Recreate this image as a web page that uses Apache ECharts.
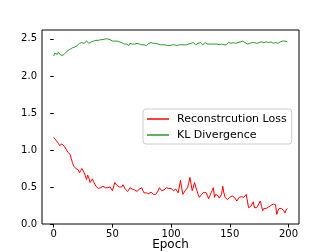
<!DOCTYPE html>
<html><head><meta charset="utf-8">
<script src="https://cdn.jsdelivr.net/npm/echarts@6/dist/echarts.min.js"></script>
<style>html,body{margin:0;padding:0;background:#fff}#c{width:332px;height:252px}</style>
</head><body><div id="c"></div>
<script>
var reconLoss = [
1.17,1.15,1.13,1.11,1.09,1.06,1.07,1.08,1.07,1.05,
1.03,1.00,0.97,0.95,0.94,0.88,0.83,0.78,0.76,0.75,
0.74,0.73,0.69,0.72,0.75,0.72,0.69,0.65,0.60,0.66,
0.62,0.56,0.58,0.61,0.57,0.54,0.51,0.49,0.48,0.48,
0.49,0.50,0.51,0.50,0.49,0.50,0.49,0.48,0.50,0.49,
0.45,0.50,0.56,0.54,0.52,0.51,0.50,0.49,0.50,0.53,
0.50,0.47,0.45,0.44,0.46,0.49,0.50,0.47,0.45,0.46,
0.45,0.44,0.45,0.47,0.49,0.49,0.45,0.42,0.43,0.42,
0.43,0.41,0.40,0.43,0.43,0.40,0.38,0.40,0.42,0.45,
0.49,0.47,0.45,0.44,0.46,0.48,0.49,0.49,0.48,0.49,
0.48,0.47,0.45,0.44,0.47,0.48,0.42,0.50,0.59,0.49,
0.40,0.42,0.45,0.46,0.49,0.55,0.63,0.54,0.45,0.50,
0.56,0.50,0.45,0.40,0.36,0.38,0.40,0.42,0.43,0.44,
0.42,0.38,0.34,0.38,0.42,0.45,0.49,0.36,0.40,0.42,
0.38,0.35,0.33,0.40,0.51,0.42,0.36,0.35,0.33,0.35,
0.36,0.37,0.38,0.37,0.36,0.34,0.31,0.33,0.36,0.36,
0.37,0.38,0.36,0.38,0.40,0.38,0.22,0.23,0.24,0.27,
0.30,0.22,0.21,0.22,0.24,0.28,0.31,0.24,0.18,0.21,
0.22,0.21,0.22,0.23,0.24,0.25,0.26,0.27,0.27,0.26,
0.13,0.18,0.21,0.22,0.21,0.22,0.18,0.15,0.19,0.21
];
var klDivergence = [
2.27,2.31,2.29,2.29,2.32,2.30,2.28,2.27,2.28,2.30,
2.31,2.33,2.34,2.35,2.36,2.37,2.38,2.38,2.39,2.40,
2.41,2.43,2.44,2.45,2.45,2.45,2.44,2.45,2.47,2.46,
2.44,2.45,2.46,2.47,2.47,2.47,2.48,2.48,2.48,2.48,
2.49,2.49,2.49,2.49,2.50,2.50,2.50,2.49,2.49,2.48,
2.47,2.46,2.47,2.48,2.47,2.45,2.46,2.46,2.45,2.44,
2.43,2.44,2.43,2.42,2.41,2.44,2.46,2.43,2.42,2.43,
2.43,2.44,2.44,2.43,2.43,2.42,2.42,2.42,2.41,2.41,
2.43,2.44,2.45,2.45,2.45,2.44,2.44,2.44,2.43,2.43,
2.43,2.42,2.42,2.42,2.42,2.42,2.42,2.41,2.41,2.41,
2.41,2.42,2.42,2.42,2.42,2.41,2.40,2.42,2.43,2.42,
2.42,2.42,2.42,2.42,2.43,2.43,2.44,2.44,2.43,2.45,
2.44,2.42,2.43,2.44,2.43,2.45,2.43,2.42,2.44,2.45,
2.44,2.43,2.42,2.43,2.45,2.43,2.42,2.43,2.43,2.43,
2.42,2.42,2.43,2.43,2.42,2.42,2.42,2.42,2.44,2.45,
2.46,2.44,2.44,2.45,2.45,2.44,2.45,2.45,2.45,2.46,
2.45,2.47,2.48,2.45,2.43,2.43,2.44,2.44,2.44,2.45,
2.45,2.45,2.46,2.44,2.44,2.45,2.45,2.46,2.46,2.45,
2.45,2.46,2.46,2.45,2.45,2.46,2.46,2.44,2.45,2.45,
2.45,2.44,2.45,2.46,2.46,2.47,2.48,2.47,2.47,2.46
];
var xTicks = [0, 50, 100, 150, 200];
var yTicks = [0.0, 0.5, 1.0, 1.5, 2.0, 2.5];
var seriesNames = ['Reconstrcution Loss', 'KL Divergence'];

function pairs(arr){ return arr.map(function(v,i){ return [i, v]; }); }

var font = 'DejaVu Sans';
var chart = echarts.init(document.getElementById('c'));
chart.setOption({
  animation: false,
  backgroundColor: '#fff',
  grid: {left: 42, top: 30, right: 33, bottom: 28, outerBoundsMode: 'none',
         show: true, borderColor: '#000', borderWidth: 1},
  xAxis: {
    type: 'value', min: -9.95, max: 208.95,
    name: 'Epoch', nameLocation: 'middle', nameGap: 15, nameMoveOverlap: false,
    nameTextStyle: {fontFamily: font, fontSize: 12, color: '#000'},
    axisLine: {show: false},
    splitLine: {show: false},
    axisTick: {show: true, length: 3.5, customValues: xTicks, lineStyle: {color: '#000', width: 1}},
    axisLabel: {customValues: xTicks, margin: 5, fontFamily: font, fontSize: 10, color: '#000'}
  },
  yAxis: {
    type: 'value', min: 0, max: 2.62,
    axisLine: {show: false},
    splitLine: {show: false},
    axisTick: {show: true, length: 3.5, customValues: yTicks, lineStyle: {color: '#000', width: 1}},
    axisLabel: {customValues: yTicks, margin: 5, fontFamily: font, fontSize: 10, color: '#000',
      formatter: function(v){ return v.toFixed(1); }}
  },
  legend: {
    orient: 'vertical', left: 143, top: 109,
    padding: [4, 5, 3, 4], itemGap: 4,
    itemWidth: 22, itemHeight: 1.5,
    backgroundColor: 'rgba(255,255,255,0.8)', borderColor: '#ccc', borderWidth: 1, borderRadius: 3,
    textStyle: {fontFamily: font, fontSize: 11, color: '#000', padding: [0,0,0,3], lineHeight: 12},
    data: [{name: seriesNames[0], icon: 'rect'}, {name: seriesNames[1], icon: 'rect'}]
  },
  series: [
    {name: seriesNames[0], type: 'line', data: pairs(reconLoss), showSymbol: false, symbol: 'none',
     lineStyle: {color: '#ff0000', width: 1}, itemStyle: {color: '#ff0000'}},
    {name: seriesNames[1], type: 'line', data: pairs(klDivergence), showSymbol: false, symbol: 'none',
     lineStyle: {color: '#2a9a2a', width: 1}, itemStyle: {color: '#2a9a2a'}}
  ]
});
</script></body></html>
